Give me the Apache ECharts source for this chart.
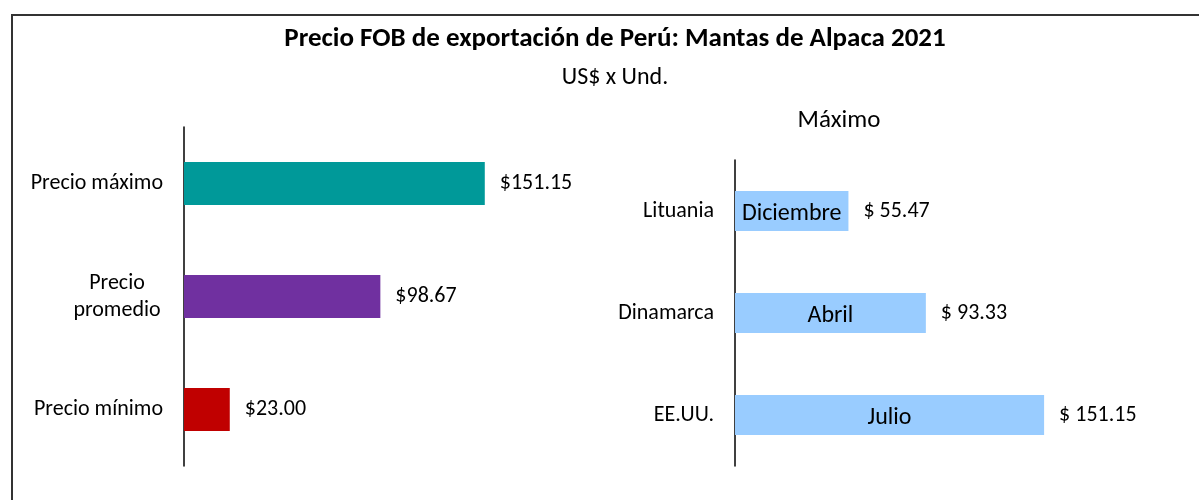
<!DOCTYPE html>
<html>
<head>
<meta charset="utf-8">
<script src="https://cdn.jsdelivr.net/npm/echarts@6/dist/echarts.min.js"></script>
<style>
  html, body { margin: 0; padding: 0; background: #fff; }
  #chart { width: 1199px; height: 500px; }
</style>
</head>
<body>
<div id="chart"></div>
<script>
// left panel: summary prices
const priceCategories = ['Precio máximo', 'Precio\npromedio', 'Precio mínimo'];
const priceValues = [151.15, 98.67, 23.00];
const priceColors = ['#009999', '#7030A0', '#C00000'];

// right panel: maximum by country
const countries = ['Lituania', 'Dinamarca', 'EE.UU.'];
const countryValues = [55.47, 93.33, 151.15];
const countryMonths = ['Diciembre', 'Abril', 'Julio'];

const FONT = 'Carlito, Lato, sans-serif';
const chart = echarts.init(document.getElementById('chart'));

const catAxisCommon = {
  type: 'category',
  inverse: true,
  axisLine: { lineStyle: { color: '#000', width: 1.5 } },
  axisTick: { show: false },
};

chart.setOption({
  animation: false,
  textStyle: { fontFamily: FONT },
  title: [
    {
      text: 'Precio FOB de exportación de Perú: Mantas de Alpaca 2021',
      left: 610, top: 21, textAlign: 'center',
      textStyle: { fontSize: 27, fontWeight: 'bold', color: '#000', fontFamily: FONT },
    },
    {
      text: 'US$ x Und.',
      left: 610, top: 61, textAlign: 'center',
      textStyle: { fontSize: 24, fontWeight: 'normal', color: '#000', fontFamily: FONT },
    },
    {
      text: 'Máximo',
      left: 834, top: 103, textAlign: 'center',
      textStyle: { fontSize: 25, fontWeight: 'normal', color: '#000', fontFamily: FONT },
    },
  ],
  graphic: [
    {
      type: 'rect',
      shape: { x: 12, y: 15, width: 1200, height: 500 },
      style: { fill: 'none', stroke: '#333', lineWidth: 2 },
      silent: true,
    },
  ],
  grid: [
    { left: 184, top: 127, width: 398, height: 339 },
    { left: 735, top: 160, width: 409, height: 306 },
  ],
  xAxis: [
    { type: 'value', gridIndex: 0, min: 0, max: 200, show: false },
    { type: 'value', gridIndex: 1, min: 0, max: 200, show: false },
  ],
  yAxis: [
    {
      ...catAxisCommon,
      gridIndex: 0,
      data: priceCategories,
      axisLabel: {
        margin: 21,
        fontSize: 22,
        color: '#000',
        fontFamily: FONT,
        formatter: (v) => (v.indexOf('\n') >= 0 ? '{c|' + v + '}' : v),
        rich: {
          c: { width: 92, align: 'center', fontSize: 22, lineHeight: 27, color: '#000', fontFamily: FONT },
        },
      },
    },
    {
      ...catAxisCommon,
      gridIndex: 1,
      data: countries,
      axisLabel: { margin: 21, fontSize: 22, color: '#000', fontFamily: FONT },
    },
  ],
  series: [
    {
      type: 'bar',
      xAxisIndex: 0,
      yAxisIndex: 0,
      barWidth: 43,
      data: priceValues.map((v, i) => ({ value: v, itemStyle: { color: priceColors[i] } })),
      label: {
        show: true,
        position: 'right',
        distance: 15,
        fontSize: 22,
        color: '#000',
        fontFamily: FONT,
        formatter: (p) => '$' + p.value.toFixed(2),
      },
    },
    {
      type: 'bar',
      xAxisIndex: 1,
      yAxisIndex: 1,
      barWidth: 40,
      itemStyle: { color: '#99CCFF' },
      data: countryValues,
      label: {
        show: true,
        position: 'right',
        distance: 15,
        fontSize: 22,
        color: '#000',
        fontFamily: FONT,
        formatter: (p) => '$ ' + p.value.toFixed(2),
      },
    },
    {
      // month labels inside the light-blue bars
      type: 'bar',
      xAxisIndex: 1,
      yAxisIndex: 1,
      barWidth: 40,
      barGap: '-100%',
      itemStyle: { color: 'transparent' },
      data: countryValues,
      label: {
        show: true,
        position: 'inside',
        offset: [0, 3],
        fontSize: 24,
        color: '#000',
        fontFamily: FONT,
        formatter: (p) => countryMonths[p.dataIndex],
      },
      z: 3,
    },
  ],
});
</script>
</body>
</html>
